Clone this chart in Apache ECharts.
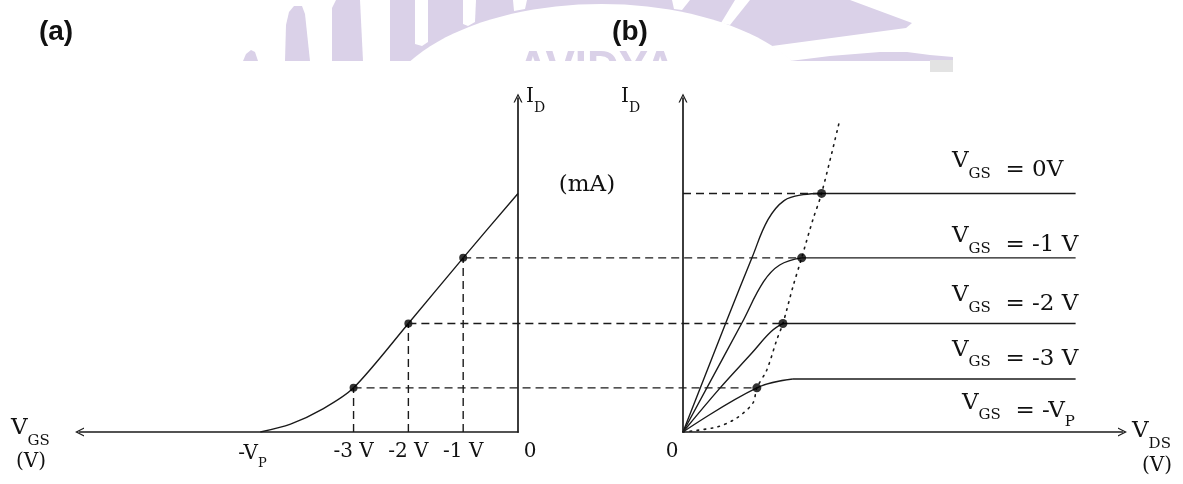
<!DOCTYPE html>
<html>
<head>
<meta charset="utf-8">
<script src="https://cdn.jsdelivr.net/npm/echarts@6/dist/echarts.min.js"></script>
<style>
  html, body { margin: 0; padding: 0; background: #fff; }
  #chart { width: 1183px; height: 484px; }
</style>
</head>
<body>
<div id="chart"></div>
<script>
// JFET characteristics: (a) transfer curve I_D vs V_GS, (b) drain curves I_D vs V_DS.

// Gate voltages marked on the transfer curve (V) and the pinch-off magnitude |V_P|
const pinchOff = 4.7;
const gateSteps = [-1, -2, -3];
const gateTickText = ['-1 V', '-2 V', '-3 V'];

// Saturation drain current (mA) for V_GS = 0, -1, -2, -3 V
const satCurrent = [10, 7.3, 4.55, 1.85];

// (a) transfer curve points [V_GS, I_D]
const transferCurve = [
  [-4.7, 0], [-4.15, 0.33], [-3.55, 0.98],
  [-3, 1.85], [-2, 4.55], [-1, 7.3], [0, 10]
];

// (b) ohmic-region drain curves [V_DS, I_D], ending at the knee
const drainGs0 = [[0, 0], [1.5, 4.69], [2.35, 7.29], [2.9, 8.9], [3.45, 9.7], [4.1, 9.95], [4.73, 10]];
const drainGs1 = [[0, 0], [2.01, 4.57], [2.75, 6.3], [3.3, 7.0], [4.05, 7.3]];
const drainGs2 = [[0, 0], [1.26, 1.84], [2.35, 3.31], [3.0, 4.2], [3.41, 4.55]];
const drainGs3 = [[0, 0], [2.52, 1.85], [3.75, 2.22]];

// knee (pinch-off) points of each drain curve, V_DS (V)
const kneeVds = [4.73, 4.05, 3.41, 2.52];
// flat saturation level drawn for each curve (mA) and where it starts
const flatLevel = [10, 7.3, 4.55, 2.22];
const flatStart = [4.73, 4.05, 3.41, 3.75];
const flatEnd = 13.4;

// pinch-off locus
const pinchLocus = [
  [0, 0], [1.16, 0.21], [1.84, 0.59], [2.39, 1.22], [2.52, 1.85], [2.86, 2.6],
  [3.2, 3.86], [3.41, 4.55], [3.75, 6.08], [4.05, 7.3], [4.43, 8.89], [4.73, 10], [5.35, 13.08]
];

// curve labels on the right
const curveGate = ['0V', '-1 V', '-2 V', '-3 V'];

const ink = '#1a1a1a';
const serif = '"DejaVu Serif", "Liberation Serif", serif';
const chevron = 'path://M0,10L5,0L10,10L8.5,10L5,2.9L1.5,10Z';

const chart = echarts.init(document.getElementById('chart'), null, { renderer: 'canvas' });

function axisLineStyle(symbol) {
  return {
    show: true,
    onZero: false,
    symbol: symbol,
    symbolSize: [10, 9],
    lineStyle: { color: ink, width: 1.7 }
  };
}
const hidden = { axisTick: { show: false }, axisLabel: { show: false }, splitLine: { show: false } };

function curve(data, xi, opts) {
  return Object.assign({
    type: 'line', xAxisIndex: xi, yAxisIndex: xi, data: data,
    showSymbol: false, symbol: 'none', silent: true,
    lineStyle: { color: ink, width: 1.4 }
  }, opts || {});
}
const dashed = { color: ink, width: 1.4, type: [8, 5] };

const series = [];
// (a) transfer curve
series.push(curve(transferCurve, 0, { smooth: 0.3 }));
gateSteps.forEach(function (v, i) {
  series.push(curve([[v, 0], [v, satCurrent[i + 1]]], 0, { lineStyle: dashed }));
});
series.push({
  type: 'scatter', xAxisIndex: 0, yAxisIndex: 0, silent: true, z: 5,
  symbolSize: 8, itemStyle: { color: '#000' },
  data: gateSteps.map(function (v, i) { return [v, satCurrent[i + 1]]; })
});

// (b) drain curves
[drainGs0, drainGs1, drainGs2, drainGs3].forEach(function (d) {
  series.push(curve(d, 1, { smooth: 0.4 }));
});
flatLevel.forEach(function (lvl, i) {
  series.push(curve([[flatStart[i], lvl], [flatEnd, lvl]], 1));
});
series.push(curve([[0, satCurrent[0]], [kneeVds[0], satCurrent[0]]], 1, { lineStyle: dashed }));
series.push(curve(pinchLocus, 1, {
  smooth: 0.3,
  lineStyle: { color: ink, width: 1.6, type: [1.6, 5.5], cap: 'round' }
}));
series.push({
  type: 'scatter', xAxisIndex: 1, yAxisIndex: 1, silent: true, z: 5,
  symbolSize: 9, itemStyle: { color: '#000' },
  data: kneeVds.map(function (v, i) { return [v, satCurrent[i]]; })
});

chart.setOption({
  animation: false,
  backgroundColor: '#fff',
  grid: [
    { left: 79.5, top: 98, width: 438.5, height: 334 },
    { left: 683, top: 98, width: 439.5, height: 334 }
  ],
  xAxis: [
    Object.assign({ type: 'value', gridIndex: 0, min: -8, max: 0, position: 'bottom',
      axisLine: axisLineStyle([chevron, 'none']) }, hidden),
    Object.assign({ type: 'value', gridIndex: 1, min: 0, max: 15, position: 'bottom',
      axisLine: axisLineStyle(['none', chevron]) }, hidden)
  ],
  yAxis: [
    Object.assign({ type: 'value', gridIndex: 0, min: 0, max: 14, position: 'right',
      axisLine: axisLineStyle(['none', chevron]) }, hidden),
    Object.assign({ type: 'value', gridIndex: 1, min: 0, max: 14, position: 'left',
      axisLine: axisLineStyle(['none', chevron]) }, hidden)
  ],
  series: series
});

// ---- overlay: connectors between panels, labels, background logo ----
function pA(pt) { return chart.convertToPixel({ gridIndex: 0 }, pt); }
function pB(pt) { return chart.convertToPixel({ gridIndex: 1 }, pt); }

const lavender = '#dad1e8';
const g = [];

// faint logo band across the top (kept above y = 61)
function poly(points, fill, z) {
  g.push({ type: 'polygon', z: z || 0, silent: true, shape: { points: points }, style: { fill: fill } });
}
poly([[243, 61], [246, 54], [251, 50], [255, 52], [258, 61]], lavender);
poly([[285, 61], [286, 25], [289, 12], [294, 6], [302, 6], [305, 14], [310, 61]], lavender);
poly([[332, 61], [332, 8], [336, 0], [360, 0], [363, 61]], lavender);
poly([[390, 0], [850, 0], [912, 23], [906, 28], [772, 46], [792, 61], [390, 61]], lavender);
poly([[415, 0], [428, 0], [428, 42], [422, 46], [415, 44]], '#fff', 1);
poly([[463, 0], [476, 0], [475, 22], [468, 26], [463, 24]], '#fff', 1);
poly([[513, 0], [527, 0], [525, 9], [514, 11]], '#fff', 1);
poly([[672, 0], [690, 0], [682, 10], [674, 9]], '#fff', 1);
poly([[735, 0], [750, 0], [730, 25], [721, 23]], '#fff', 1);
// arch-shaped opening under the band
(function () {
  const cx = 601.5, cy = 120, rx = 222, ry = 116, cut = 61;
  const t0 = Math.asin((cy - cut) / ry);
  const pts = [];
  for (let k = 0; k <= 40; k++) {
    const t = t0 + (Math.PI - 2 * t0) * k / 40;
    pts.push([cx + rx * Math.cos(t), cy - ry * Math.sin(t)]);
  }
  poly(pts, '#fff', 2);
})();
g.push({ type: 'text', z: 3, silent: true, style: {
  x: 517, y: 48, text: 'AVIDYA', fill: lavender, font: 'bold 44px "Liberation Sans", sans-serif',
  align: 'left', verticalAlign: 'top' } });
g.push({ type: 'rect', z: 4, silent: true, shape: { x: 500, y: 61, width: 200, height: 24 }, style: { fill: '#fff' } });
poly([[790, 61], [830, 56], [880, 52], [907, 52], [930, 55], [953, 57], [953, 61]], lavender, 4);
g.push({ type: 'rect', z: 4, silent: true, shape: { x: 930, y: 60, width: 23, height: 12 }, style: { fill: '#e3e3e3' } });

// dashed connectors from panel (a) to the knees in panel (b)
gateSteps.forEach(function (v, i) {
  const a = pA([v, satCurrent[i + 1]]);
  const b = pB([kneeVds[i + 1], satCurrent[i + 1]]);
  g.push({ type: 'line', z: 10, silent: true, shape: { x1: a[0], y1: a[1], x2: b[0], y2: b[1] },
    style: { stroke: ink, lineWidth: 1.4, lineDash: [8, 5] } });
});

function text(x, y, str, font, opts) {
  g.push({ type: 'text', z: 20, silent: true, style: Object.assign({
    x: x, y: y, text: str, font: font, fill: '#111', align: 'center', verticalAlign: 'middle'
  }, opts || {}) });
}

// panel captions
text(56, 32, '(a)', 'bold 28px "Liberation Sans", Arial, sans-serif');
text(630, 32, '(b)', 'bold 28px "Liberation Sans", Arial, sans-serif');

const F = 23, FS = 15;
function st(size, lift) {
  return { fontFamily: serif, fontSize: size, fill: '#111', verticalAlign: 'bottom', padding: [0, 0, lift, 0] };
}
const sub = {
  big: st(F, 9), s: st(FS, 0), t: st(F, 0),
  big2: st(F, 15), s2: st(FS, 7), t2: st(F, 7),
  i: st(20, 8), d: st(14, 0),
  tk: st(20, 6), tks: st(13, 0)
};
function rich(x, y, str, align) {
  g.push({ type: 'text', z: 20, silent: true, style: {
    x: x, y: y, text: str, rich: sub, align: align || 'left', verticalAlign: 'bottom'
  } });
}

// axis titles
rich(526, 115, '{i|I}{d|D}');
rich(621, 115, '{i|I}{d|D}');
text(587, 185, '(mA)', '23px ' + serif);
rich(11, 449, '{big|V}{s|GS}');
text(31, 462, '(V)', '20px ' + serif);
rich(1132, 452, '{big|V}{s|DS}');
text(1157, 466, '(V)', '20px ' + serif);

// tick labels
const axisY = pA([0, 0])[1];
gateSteps.forEach(function (v, i) {
  text(pA([v, 0])[0], axisY + 20, gateTickText[i], '20px ' + serif);
});
rich(pA([-pinchOff, 0])[0] - 8, axisY + 38, '{tk|-V}{tks|P}', 'center');
text(pA([0, 0])[0] + 12, axisY + 20, '0', '20px ' + serif);
text(pB([0, 0])[0] - 11, axisY + 20, '0', '20px ' + serif);

// curve labels
const labelLift = [12, 1, 8, 9];
curveGate.forEach(function (s, i) {
  const y = pB([flatEnd, flatLevel[i]])[1] - labelLift[i];
  rich(952, y, '{big|V}{s|GS}{t|  = ' + s + '}');
});
rich(962, axisY - 2, '{big2|V}{s2|GS}{t2|  = -V}{s|P}');

chart.setOption({ graphic: { elements: g } });
</script>
</body>
</html>
